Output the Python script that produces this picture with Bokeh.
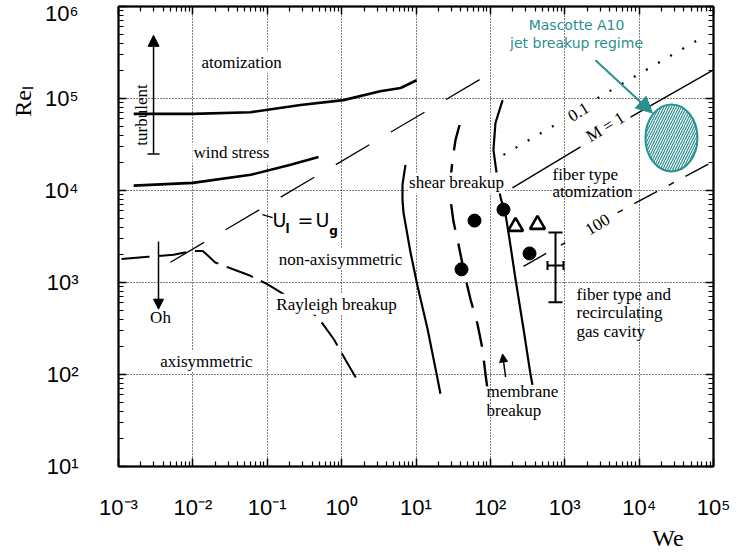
import math
from bokeh.plotting import figure
from bokeh.models import (Range1d, LogAxis, FixedTicker, Arrow, NormalHead,
                          TeeHead, Whisker, ColumnDataSource)
from bokeh.embed import file_html
from bokeh.resources import INLINE
from bokeh.core.properties import value

# ---------------- data ----------------
x_decades = [1e-3, 1e-2, 1e-1, 1e0, 1e1, 1e2, 1e3, 1e4, 1e5]
x_labels = ["10\u207b\u00b3", "10\u207b\u00b2", "10\u207b\u00b9", "10\u2070", "10\u00b9",
            "10\u00b2", "10\u00b3", "10\u2074", "10\u2075"]
y_decades = [1e1, 1e2, 1e3, 1e4, 1e5, 1e6]
y_labels = ["10\u00b9", "10\u00b2", "10\u00b3", "10\u2074", "10\u2075", "10\u2076"]
x_title = "We"
y_title = "Re\u2097"

# atomization boundary (solid)
atom_we = [1.6e-3, 1.0e-2, 6.0e-2, 0.28, 1.06, 3.3, 6.2, 10.2]
atom_re = [6.8e4, 6.8e4, 7.1e4, 8.5e4, 9.6e4, 1.2e5, 1.3e5, 1.58e5]
# wind stress boundary (solid)
wind_we = [1.6e-3, 1.0e-2, 6.0e-2, 0.206, 0.489]
wind_re = [1.13e4, 1.21e4, 1.48e4, 1.9e4, 2.32e4]
# Ul = Ug line (dashed)
ulug_we = [5.0e-3, 86.0]
ulug_re = [1.66e3, 1.75e5]
# axisymmetric / non-axisymmetric boundary (dashed)
axi_we = [1.1e-3, 2.5e-3, 5.5e-3, 1.0e-2, 1.36e-2, 1.6e-2, 2.0e-2, 3.4e-2,
          5.7e-2, 0.1, 0.17, 0.29, 0.48, 0.79, 1.15, 1.65]
axi_re = [1.8e3, 1.9e3, 2.0e3, 2.2e3, 2.2e3, 1.95e3, 1.65e3, 1.4e3,
          1.2e3, 960, 740, 560, 420, 240, 140, 85]
# shear breakup left boundary (solid)
shear_we = [7.22, 6.58, 6.58, 6.79, 8.44, 10.5, 14.3, 19.5, 21.3]
shear_re = [1.9e4, 1.16e4, 7.95e3, 5.75e3, 2.12e3, 910, 312, 89.6, 61.7]
# membrane boundary (dashed)
memb_we = [38.5, 34.0, 31.0, 29.1, 29.1, 31.9, 37.3, 44.9, 54.0, 67.1, 78.4, 85.9, 91.4]
memb_re = [5.15e4, 3.55e4, 2.15e4, 1.31e4, 7.95e3, 4.59e3, 2.59e3, 1.23e3,
           658, 353, 189, 101, 69.8]
# fiber type boundary (solid)
fiber_we = [146, 117, 110, 121, 137, 160, 181, 218, 279, 346, 368]
fiber_re = [9.6e4, 5.42e4, 2.77e4, 1.56e4, 8.36e3, 5.47e3, 2.94e3, 1.08e3, 312, 101, 77.1]
# M = 1 line (two pieces around its label)
m1_we = [[198, 1630], [7660, 1e5]]
m1_re = [[1.07e4, 2.98e4], [6.29e4, 2.05e5]]
# M = 0.1 line (dotted)
m01_we = [[150, 824], [2755, 7.1e4]]
m01_re = [[2.44e4, 5.42e4], [1.01e5, 4.62e5]]
# M = 100 line (dash-dot)
m100a_we = [279, 1023]
m100a_re = [1.5e3, 2.72e3]
m100b_we = [5120, 9.7e4]
m100b_re = [5.75e3, 2.05e4]
# experiments
dots_we = [40.9, 61.2, 150, 336]
dots_re = [1.39e3, 4.71e3, 6.2e3, 2.07e3]
tri_we = [218, 430]
tri_re = [4.06e3, 4.27e3]
err_we, err_re = 751, 1535
err_re_lo, err_re_hi = 611, 3490
err_we_lo, err_we_hi = 586, 962
# Mascotte A10 regime
masc_we, masc_re = 2.72e4, 3.73e4

# text labels: (text, We, Re)
region_labels = [
    ("atomization", 0.0451, 2.48e5),
    ("wind stress", 0.0330, 2.57e4),
    ("shear breakup", 35.1, 1.21e4),
    ("non-axisymmetric", 0.966, 1.78e3),
    ("Rayleigh breakup", 0.853, 581),
    ("Oh", 3.67e-3, 420),
    ("axisymmetric", 0.0152, 140),
]
left_labels = [
    ("fiber type", 684, 1.48e4),
    ("atomization", 684, 9.7e3),
    ("fiber type and", 1439, 745),
    ("recirculating", 1439, 476),
    ("gas cavity", 1439, 296),
    ("membrane", 88.7, 64.8),
    ("breakup", 88.7, 40.4),
]
line_labels = [("0.1", 1531, 7.13e4), ("M = 1", 3530, 4.9e4), ("100", 2755, 4.27e3)]

TEAL = "#2a8f8f"
SERIF = value("Liberation Serif")
NBSP = "\u00a0"

p = figure(width=732, height=553, x_axis_type="log", y_axis_type="log",
           x_range=Range1d(1e-3, 1e5), y_range=Range1d(1e1, 1e6),
           output_backend="svg", toolbar_location=None,
           min_border_left=118, min_border_right=19, min_border_top=6,
           min_border_bottom=85)
p.outline_line_color = "black"
p.outline_line_width = 1.5

minor_x = [m * d for d in x_decades[:-1] for m in range(2, 10)]
minor_y = [m * d for d in y_decades[:-1] for m in range(2, 10)]
tx = FixedTicker(ticks=x_decades, minor_ticks=minor_x)
ty = FixedTicker(ticks=y_decades, minor_ticks=minor_y)

main_x = p.xaxis[0]
main_y = p.yaxis[0]
main_x.ticker = tx
main_x.major_label_overrides = dict(zip(x_decades, x_labels))
main_x.major_label_standoff = 28
main_y.ticker = ty
main_y.major_label_overrides = dict(zip(y_decades, y_labels))
main_y.major_label_standoff = 40
main_y.major_label_text_baseline = "top"
for ax in (main_x, main_y):
    ax.major_label_text_font = "Liberation Sans"
    ax.major_label_text_font_size = "22px"
    ax.major_label_text_color = "black"
    ax.axis_label_text_font = "Liberation Serif"
    ax.axis_label_text_font_size = "24px"
    ax.axis_label_text_font_style = "normal"
    ax.axis_label_text_color = "black"

# titles sit toward the far ends of the axes, as in the original figure
main_x.axis_label = NBSP * 84 + x_title
main_x.axis_label_standoff = 2
main_y.axis_label = NBSP * 45 + y_title
main_y.axis_label_standoff = 6

top = LogAxis(ticker=tx, major_label_text_font_size="1px", major_label_standoff=0,
              major_label_text_color=None)
right = LogAxis(ticker=ty, major_label_text_font_size="1px", major_label_standoff=0,
                major_label_text_color=None)
p.add_layout(top, "above")
p.add_layout(right, "right")

for ax in (main_x, main_y, top, right):
    ax.major_tick_in = 8
    ax.major_tick_out = 0
    ax.minor_tick_in = 5
    ax.minor_tick_out = 0
    ax.axis_line_width = 2
    ax.major_tick_line_width = 1.5
    ax.minor_tick_line_width = 1.2
    ax.axis_line_color = "black"
    ax.major_tick_line_color = "black"
    ax.minor_tick_line_color = "black"

p.xgrid.grid_line_color = "black"
p.ygrid.grid_line_color = "black"
p.xgrid.grid_line_dash = "1 2"
p.ygrid.grid_line_dash = "1 2"
p.xgrid.grid_line_width = 1
p.ygrid.grid_line_width = 1
p.xgrid.ticker = tx
p.ygrid.ticker = ty

# ---------------- curves ----------------
p.line(atom_we, atom_re, line_width=2.6, color="black")
p.line(wind_we, wind_re, line_width=2.6, color="black")
p.line(ulug_we, ulug_re, line_width=1.3, color="black", line_dash="39 25")
p.line(axi_we, axi_re, line_width=2.0, color="black", line_dash="28 9")
p.line(shear_we, shear_re, line_width=2.2, color="black")
p.line(memb_we, memb_re, line_width=2.4, color="black", line_dash="26 14")
p.line(fiber_we, fiber_re, line_width=2.2, color="black")
p.multi_line(m1_we, m1_re, line_width=1.4, color="black")
p.multi_line(m01_we, m01_re, line_width=2.2, color="black", line_dash="2 12")
p.line(m100a_we, m100a_re, line_width=1.4, color="black", line_dash="26 17 5 17")
p.line(m100b_we, m100b_re, line_width=1.4, color="black", line_dash="6 13 26 13")
# Ul = Ug leader
p.line([0.0863, 0.118], [5.47e3, 5.08e3], line_width=1.2, color="black")

# experiments
p.scatter(dots_we, dots_re, marker="circle", size=13, color="black")
p.scatter(tri_we, tri_re, marker="triangle", size=15, fill_color="white",
          line_color="black", line_width=2.6)
src_v = ColumnDataSource(dict(base=[err_we], lower=[err_re_lo], upper=[err_re_hi]))
src_h = ColumnDataSource(dict(base=[err_re], lower=[err_we_lo], upper=[err_we_hi]))
p.add_layout(Whisker(source=src_v, base="base", lower="lower", upper="upper",
                     dimension="height", line_width=2,
                     upper_head=TeeHead(size=14, line_width=2),
                     lower_head=TeeHead(size=14, line_width=2)))
p.add_layout(Whisker(source=src_h, base="base", lower="lower", upper="upper",
                     dimension="width", line_width=2,
                     upper_head=TeeHead(size=9, line_width=2),
                     lower_head=TeeHead(size=9, line_width=2)))

# Mascotte regime
p.ellipse([masc_we], [masc_re], width=52, height=67, width_units="screen",
          height_units="screen", fill_color="white", line_color=TEAL, line_width=2,
          hatch_pattern="/", hatch_color=TEAL, hatch_scale=5, hatch_weight=1.2)
p.add_layout(Arrow(x_start=2590, y_start=2.61e5, x_end=1.51e4, y_end=6.95e4,
                   line_color=TEAL, line_width=2,
                   end=NormalHead(size=16, fill_color=TEAL, line_color=TEAL)))
p.text([1440, 1440], [6.23e5, 3.98e5], text=["Mascotte A10", "jet breakup regime"],
       text_font=value("DejaVu Sans"), text_font_size="14px", text_color=TEAL,
       text_align="center", text_baseline="middle")

# arrows
p.add_layout(Arrow(x_start=2.96e-3, y_start=2.5e4, x_end=2.96e-3, y_end=4.86e5,
                   line_width=1.5, start=TeeHead(size=12, line_width=1.5),
                   end=NormalHead(size=11, fill_color="black")))
p.add_layout(Arrow(x_start=3.45e-3, y_start=2.79e3, x_end=3.45e-3, y_end=513,
                   line_width=1.5, end=NormalHead(size=10, fill_color="black")))
p.add_layout(Arrow(x_start=160, y_start=94, x_end=146, y_end=167,
                   line_width=1.5, end=NormalHead(size=8, fill_color="black")))

# text
p.text([t[1] for t in region_labels], [t[2] for t in region_labels],
       text=[t[0] for t in region_labels], text_font=SERIF, text_font_size="17px",
       text_align="center", text_baseline="middle", background_fill_color="white",
       padding=1)
p.text([t[1] for t in left_labels], [t[2] for t in left_labels],
       text=[t[0] for t in left_labels], text_font=SERIF, text_font_size="17px",
       text_align="left", text_baseline="middle")
p.text([t[1] for t in line_labels], [t[2] for t in line_labels],
       text=[t[0] for t in line_labels], text_font=SERIF, text_font_size="17px",
       text_align="center", text_baseline="middle", angle=0.55)
p.text([2.04e-3], [6.61e4], text=["turbulent"], text_font=SERIF, text_font_size="17px",
       text_align="center", text_baseline="middle", angle=math.pi / 2)
# Ul = Ug
p.text([0.146, 0.327, 0.553], [4.83e3, 4.83e3, 4.83e3], text=["U", "=", "U"],
       text_font=value("DejaVu Sans"), text_font_size="19px",
       text_align="center", text_baseline="middle")
p.text([0.187, 0.778], [3.77e3, 3.67e3], text=["l", "g"],
       text_font=value("DejaVu Sans"), text_font_size="12px", text_font_style="bold",
       text_align="center", text_baseline="middle")

open("out.html", "w").write(file_html(p, INLINE))
